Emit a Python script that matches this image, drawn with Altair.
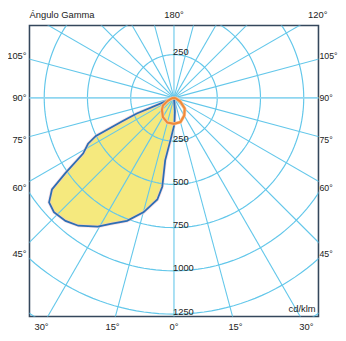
import altair as alt
import numpy as np
import pandas as pd

# ---- data (gamma in degrees, intensity in cd/klm) ----
blue_gamma = [0, 67.2, 65.6, 64.0, 61.9, 58.5, 55.3, 53.1, 50.1, 46.4, 41.4, 36.8,
              30.6, 26.7, 20.9, 14.8, 9.3, 7.5, 8.0, 4.2, -1.0, -4.0, 0]
blue_cd = [0, 233, 328, 502, 563, 616, 762, 882, 941, 958, 948, 923,
           865, 815, 761, 683, 595, 518, 365, 232, 152, 79, 0]
orange_gamma = [90, 75, 65, 55, 45, 30, 15, 0, -15, -30, -45, -60, -75, -90]
orange_cd = [0, 15, 40, 78, 98, 128, 148, 150, 145, 118, 88, 42, 12, 0]

ring_values = [250, 500, 750, 1000, 1250, 1500]
ring_label_values = [250, 250, 500, 750, 1000, 1250]
ring_label_side = [1, -1, -1, -1, -1, -1]          # 1 = above centre, -1 = below
spoke_angles = list(range(0, 360, 15))
side_label_angles = [105, 90, 75, 60, 45]
side_label_texts = ["105°", "90°", "75°", "60°", "45°"]
edge_label_angles = [30, 15, 0, -15, -30, 180, -120]
edge_label_texts = ["30°", "15°", "0°", "15°", "30°", "180°", "120°"]

# ---- layout ----
W, H = 296, 298
XD = [-835.2, 835.2]
YD = [-1264.0, 418.0]
K = W / (XD[1] - XD[0])          # px per cd/klm
FONT = "Liberation Sans"
FS = 9.6
TXT = "#222222"
GRID = "#63c7ea"

xs = alt.Scale(domain=XD, nice=False, zero=False)
ys = alt.Scale(domain=YD, nice=False, zero=False)


def X(f="x"):
    return alt.X(f + ":Q", scale=xs, axis=None)


def Y(f="y"):
    return alt.Y(f + ":Q", scale=ys, axis=None)


def polar(gam, cd):
    g = np.radians(np.array(gam, dtype=float))
    r = np.array(cd, dtype=float)
    return -r * np.sin(g), -r * np.cos(g)


# curves
bx, by = polar(blue_gamma, blue_cd)
blue_df = pd.DataFrame({"x": bx, "y": by, "i": range(len(bx))})
ox, oy = polar(orange_gamma, orange_cd)
orange_df = pd.DataFrame({"x": ox, "y": oy, "i": range(len(ox))})

# grid rings
t = np.radians(np.arange(0, 361, 2))
ring_rows = []
for v in ring_values:
    for j, tt in enumerate(t):
        ring_rows.append({"x": v * np.sin(tt), "y": v * np.cos(tt), "ring": v, "i": j})
ring_df = pd.DataFrame(ring_rows)

# spokes
spoke_rows = []
for a in spoke_angles:
    ar = np.radians(a)
    spoke_rows.append({"x": 0.0, "y": 0.0, "x2": -2500 * np.sin(ar), "y2": -2500 * np.cos(ar),
                       "main": a in (90, 270)})
spoke_df = pd.DataFrame(spoke_rows)

# side labels: y where each spoke meets a vertical line just outside the frame
HX = 160 / K
side_rows = []
for a, s in zip(side_label_angles, side_label_texts):
    ar = np.radians(a)
    yy = -HX * np.cos(ar) / np.sin(ar)
    side_rows.append({"x": XD[0], "y": yy, "t": s, "side": "L"})
    side_rows.append({"x": XD[1], "y": yy, "t": s, "side": "R"})
side_df = pd.DataFrame(side_rows)

# bottom / top labels: where each spoke meets the label frame
HB = 235 / K
HT = 85 / K
edge_rows = []
for a, s in zip(edge_label_angles, edge_label_texts):
    ar = np.radians(a)
    dx, dy = -np.sin(ar), -np.cos(ar)
    cands = []
    if abs(dx) > 1e-9:
        cands.append(HX / abs(dx))
    if dy < -1e-9:
        cands.append(HB / abs(dy))
    if dy > 1e-9:
        cands.append(HT / dy)
    tt = min(cands)
    edge_rows.append({"x": tt * dx, "y": tt * dy, "t": s})
edge_df = pd.DataFrame(edge_rows)

ring_lab_df = pd.DataFrame({"x": [0.0] * len(ring_label_values),
                            "y": [v * s for v, s in zip(ring_label_values, ring_label_side)],
                            "t": [str(v) for v in ring_label_values]})

# ---- layers ----
fill = alt.Chart(blue_df).mark_line(fill="#f5e97e", stroke="#f5e97e", strokeWidth=0.5,
                                    clip=True).encode(x=X(), y=Y(), order="i:Q")

rings = alt.Chart(ring_df).mark_line(color=GRID, strokeWidth=1.2, clip=True).encode(
    x=X(), y=Y(), detail="ring:N", order="i:Q")

spokes = alt.Chart(spoke_df[~spoke_df["main"]]).mark_rule(color=GRID, strokeWidth=1.1, clip=True).encode(
    x=X(), y=Y(), x2="x2:Q", y2="y2:Q")
spokes_main = alt.Chart(spoke_df[spoke_df["main"]]).mark_rule(color="#8fd6f0", strokeWidth=2, clip=True).encode(
    x=X(), y=Y(), x2="x2:Q", y2="y2:Q")

blue_halo = alt.Chart(blue_df).mark_line(color="#f3c3d0", strokeWidth=3.4, opacity=0.55,
                                         clip=True).encode(x=X(), y=Y(), order="i:Q")
blue_line = alt.Chart(blue_df).mark_line(color="#2c6eb5", strokeWidth=1.8, clip=True).encode(
    x=X(), y=Y(), order="i:Q")

orange_halo = alt.Chart(orange_df).mark_line(color="#f8cfa8", strokeWidth=3.6, clip=True).encode(
    x=X(), y=Y(), order="i:Q")
orange_line = alt.Chart(orange_df).mark_line(color="#ef8a3a", strokeWidth=2.2, clip=True).encode(
    x=X(), y=Y(), order="i:Q")

side_left = alt.Chart(side_df[side_df["side"] == "L"]).mark_text(
    font=FONT, fontSize=FS, color=TXT, align="right", baseline="middle", dx=-3).encode(
    x=X(), y=Y(), text="t:N")
side_right = alt.Chart(side_df[side_df["side"] == "R"]).mark_text(
    font=FONT, fontSize=9.0, color=TXT, align="left", baseline="middle", dx=1).encode(
    x=X(), y=Y(), text="t:N")
edge_text = alt.Chart(edge_df).mark_text(font=FONT, fontSize=FS, color=TXT, align="center",
                                         baseline="middle").encode(x=X(), y=Y(), text="t:N")
ring_text = alt.Chart(ring_lab_df).mark_text(font=FONT, fontSize=FS, color=TXT, align="left",
                                             baseline="middle", dx=-1, dy=-2.5).encode(
    x=X(), y=Y(), text="t:N")

title_df = pd.DataFrame({"x": [XD[0]], "y": [HT], "t": ["Ángulo Gamma"]})
title_text = alt.Chart(title_df).mark_text(font=FONT, fontSize=FS, color=TXT, align="left",
                                           baseline="middle").encode(x=X(), y=Y(), text="t:N")
unit_df = pd.DataFrame({"x": [XD[1]], "y": [YD[0]], "t": ["cd/klm"]})
unit_text = alt.Chart(unit_df).mark_text(font=FONT, fontSize=FS, color=TXT, align="right",
                                         baseline="middle", dx=-3, dy=-8).encode(
    x=X(), y=Y(), text="t:N")

chart = alt.layer(fill, rings, spokes, spokes_main, blue_halo, blue_line, orange_halo,
                  orange_line, ring_text, side_left, side_right, edge_text, title_text,
                  unit_text).properties(
    width=W, height=H,
    autosize=alt.AutoSizeParams(type="none"),
    padding={"left": 22, "top": 14, "right": 20, "bottom": 18},
    background="white",
).configure_view(stroke="#34475c", strokeWidth=1.6)

chart.save("out.html", embed_options={"renderer": "svg", "actions": False})
